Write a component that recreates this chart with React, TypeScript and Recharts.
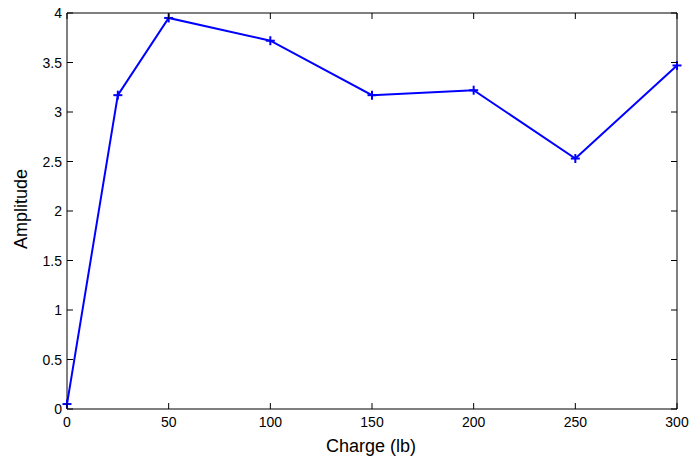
import { Line, LineChart, XAxis, YAxis } from "recharts";

const charges = [0, 25, 50, 100, 150, 200, 250, 300];
const amplitudes = [0.05, 3.17, 3.95, 3.72, 3.17, 3.22, 2.53, 3.47];
const xTicks = [0, 50, 100, 150, 200, 250, 300];
const yTicks = [0, 0.5, 1, 1.5, 2, 2.5, 3, 3.5, 4];

const data = charges.map((c, i) => ({ charge: c, amplitude: amplitudes[i] }));

const FONT = "'Liberation Sans', Arial, sans-serif";
const BLUE = "#0000ff";

const BottomTick = (props: any) => {
  const { x, y, payload } = props;
  return (
    <g>
      <line x1={x} x2={x} y1={y} y2={y - 6} stroke="#000" />
      <text x={x} y={y + 18} textAnchor="middle" fontSize={14} fontFamily={FONT} fill="#000">
        {payload.value}
      </text>
    </g>
  );
};

const TopTick = (props: any) => {
  const { x, y } = props;
  return <line x1={x} x2={x} y1={y} y2={y + 6} stroke="#000" />;
};

const LeftTick = (props: any) => {
  const { x, y, payload } = props;
  return (
    <g>
      <line x1={x} x2={x + 6} y1={y} y2={y} stroke="#000" />
      <text x={x - 5} y={y + 5} textAnchor="end" fontSize={14} fontFamily={FONT} fill="#000">
        {payload.value}
      </text>
    </g>
  );
};

const RightTick = (props: any) => {
  const { x, y } = props;
  return <line x1={x} x2={x - 6} y1={y} y2={y} stroke="#000" />;
};

const PlusDot = (props: any) => {
  const { cx, cy } = props;
  if (cx == null || cy == null) return null;
  return (
    <g>
      <line x1={cx - 4.5} x2={cx + 4.5} y1={cy} y2={cy} stroke={BLUE} strokeWidth={2} />
      <line x1={cx} x2={cx} y1={cy - 4.5} y2={cy + 4.5} stroke={BLUE} strokeWidth={2} />
    </g>
  );
};

export default function App() {
  return (
    <div style={{ position: "absolute", left: 0, top: 0, background: "#fff" }}>
      <LineChart
        width={690}
        height={457}
        data={data}
        margin={{ top: 12, right: 12, bottom: 0, left: 0 }}
      >
        <XAxis
          xAxisId="b"
          dataKey="charge"
          type="number"
          domain={[0, 300]}
          ticks={xTicks}
          height={48}
          tickSize={0}
          tickMargin={0}
          tickLine={false}
          axisLine={{ stroke: "#000" }}
          tick={<BottomTick />}
          interval={0}
          label={{
            content: () => (
              <text x={371} y={452} textAnchor="middle" fontSize={18} fontFamily={FONT} fill="#000">
                Charge (lb)
              </text>
            ),
          }}
        />
        <XAxis
          xAxisId="t"
          orientation="top"
          dataKey="charge"
          type="number"
          domain={[0, 300]}
          ticks={xTicks}
          height={1}
          tickSize={0}
          tickMargin={0}
          tickLine={false}
          axisLine={{ stroke: "#000" }}
          tick={<TopTick />}
          interval={0}
        />
        <YAxis
          yAxisId="l"
          type="number"
          domain={[0, 4]}
          ticks={yTicks}
          width={67}
          tickSize={0}
          tickMargin={0}
          tickLine={false}
          axisLine={{ stroke: "#000" }}
          tick={<LeftTick />}
          interval={0}
          label={{
            content: () => (
              <text
                x={27}
                y={209}
                transform="rotate(-90 27 209)"
                textAnchor="middle"
                fontSize={18}
                fontFamily={FONT}
                fill="#000"
              >
                Amplitude
              </text>
            ),
          }}
        />
        <YAxis
          yAxisId="r"
          orientation="right"
          type="number"
          domain={[0, 4]}
          ticks={yTicks}
          width={1}
          tickSize={0}
          tickMargin={0}
          tickLine={false}
          axisLine={{ stroke: "#000" }}
          tick={<RightTick />}
          interval={0}
        />
        <Line
          xAxisId="t"
          yAxisId="r"
          dataKey="amplitude"
          type="linear"
          stroke="none"
          dot={false}
          activeDot={false}
          legendType="none"
          isAnimationActive={false}
        />
        <Line
          xAxisId="b"
          yAxisId="l"
          dataKey="amplitude"
          type="linear"
          stroke={BLUE}
          strokeWidth={2}
          dot={<PlusDot />}
          activeDot={false}
          isAnimationActive={false}
        />
      </LineChart>
    </div>
  );
}
